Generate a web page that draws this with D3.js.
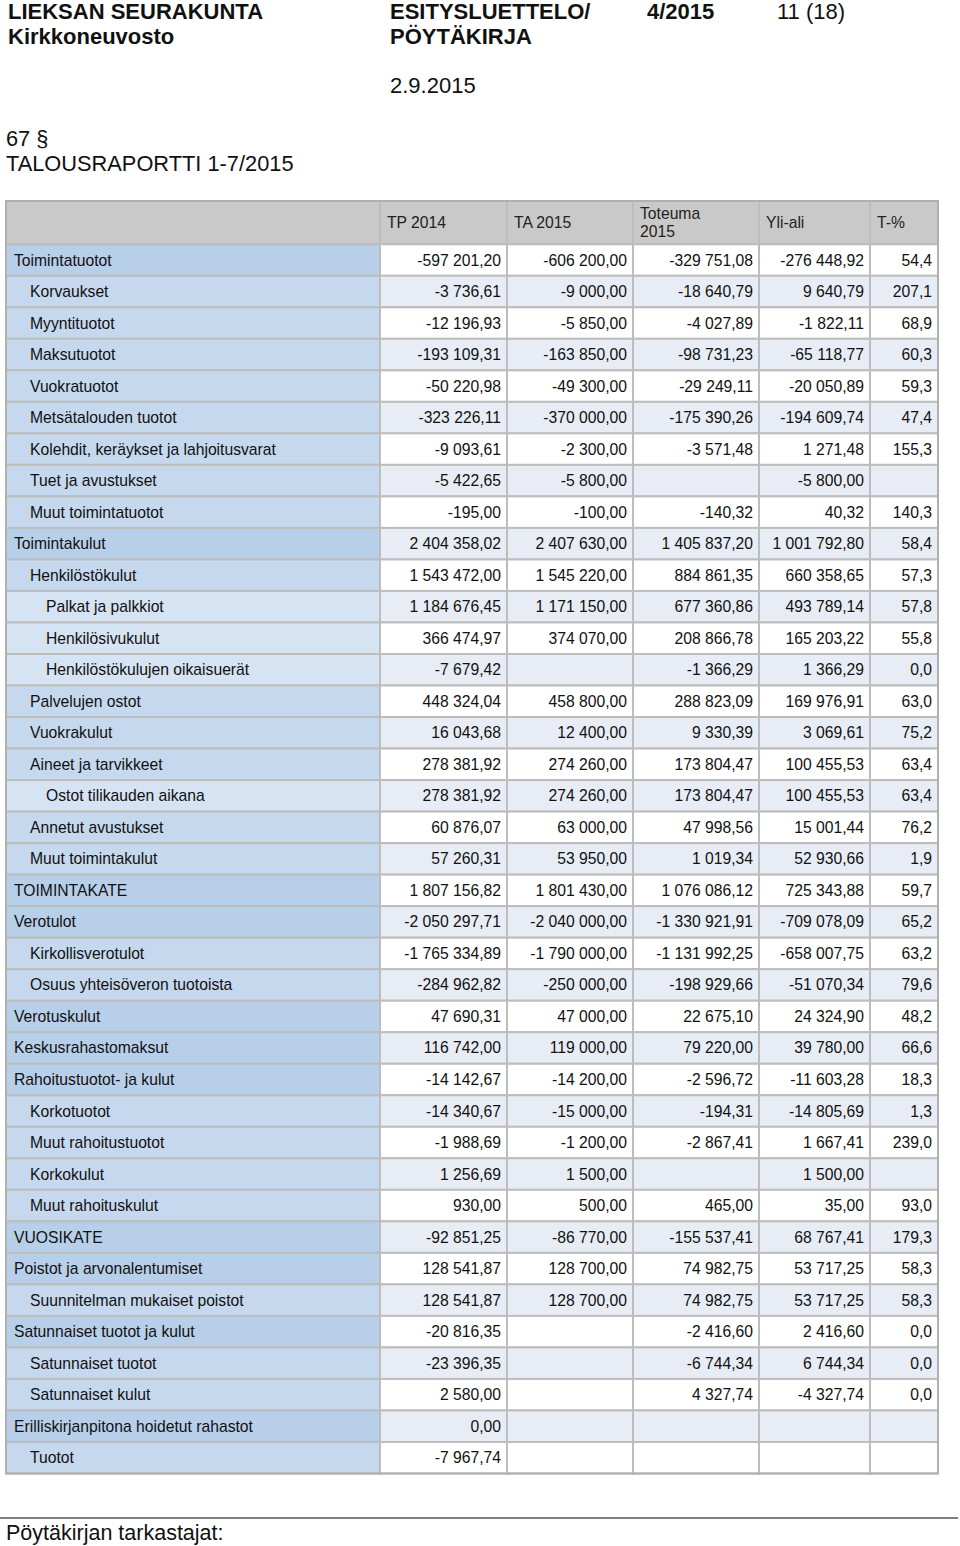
<!DOCTYPE html>
<html><head><meta charset="utf-8">
<script src="https://cdn.jsdelivr.net/npm/d3@7"></script>
<style>body{margin:0;background:#fff;} svg{display:block;font-family:"Liberation Sans",Arial,sans-serif;}</style>
</head><body>
<svg id="c" width="960" height="1546"></svg>
<script>
const columns = ["TP 2014","TA 2015","Toteuma|2015","Yli-ali","T-%"];
const labels = ["Toimintatuotot","Korvaukset","Myyntituotot","Maksutuotot","Vuokratuotot","Metsätalouden tuotot","Kolehdit, keräykset ja lahjoitusvarat","Tuet ja avustukset","Muut toimintatuotot","Toimintakulut","Henkilöstökulut","Palkat ja palkkiot","Henkilösivukulut","Henkilöstökulujen oikaisuerät","Palvelujen ostot","Vuokrakulut","Aineet ja tarvikkeet","Ostot tilikauden aikana","Annetut avustukset","Muut toimintakulut","TOIMINTAKATE","Verotulot","Kirkollisverotulot","Osuus yhteisöveron tuotoista","Verotuskulut","Keskusrahastomaksut","Rahoitustuotot- ja kulut","Korkotuotot","Muut rahoitustuotot","Korkokulut","Muut rahoituskulut","VUOSIKATE","Poistot ja arvonalentumiset","Suunnitelman mukaiset poistot","Satunnaiset tuotot ja kulut","Satunnaiset tuotot","Satunnaiset kulut","Erilliskirjanpitona hoidetut rahastot","Tuotot"];
const levels = [0,1,1,1,1,1,1,1,1,0,1,2,2,2,1,1,1,2,1,1,0,0,1,1,0,0,0,1,1,1,1,0,0,1,0,1,1,0,1];
const tp2014 = [-597201.20,-3736.61,-12196.93,-193109.31,-50220.98,-323226.11,-9093.61,-5422.65,-195.00,2404358.02,1543472.00,1184676.45,366474.97,-7679.42,448324.04,16043.68,278381.92,278381.92,60876.07,57260.31,1807156.82,-2050297.71,-1765334.89,-284962.82,47690.31,116742.00,-14142.67,-14340.67,-1988.69,1256.69,930.00,-92851.25,128541.87,128541.87,-20816.35,-23396.35,2580.00,0.00,-7967.74];
const ta2015 = [-606200,-9000,-5850,-163850,-49300,-370000,-2300,-5800,-100,2407630,1545220,1171150,374070,null,458800,12400,274260,274260,63000,53950,1801430,-2040000,-1790000,-250000,47000,119000,-14200,-15000,-1200,1500,500,-86770,128700,128700,null,null,null,null,null];
const toteuma2015 = [-329751.08,-18640.79,-4027.89,-98731.23,-29249.11,-175390.26,-3571.48,null,-140.32,1405837.20,884861.35,677360.86,208866.78,-1366.29,288823.09,9330.39,173804.47,173804.47,47998.56,1019.34,1076086.12,-1330921.91,-1131992.25,-198929.66,22675.10,79220.00,-2596.72,-194.31,-2867.41,null,465.00,-155537.41,74982.75,74982.75,-2416.60,-6744.34,4327.74,null,null];
const yliAli = [-276448.92,9640.79,-1822.11,-65118.77,-20050.89,-194609.74,1271.48,-5800.00,40.32,1001792.80,660358.65,493789.14,165203.22,1366.29,169976.91,3069.61,100455.53,100455.53,15001.44,52930.66,725343.88,-709078.09,-658007.75,-51070.34,24324.90,39780.00,-11603.28,-14805.69,1667.41,1500.00,35.00,68767.41,53717.25,53717.25,2416.60,6744.34,-4327.74,null,null];
const tPct = [54.4,207.1,68.9,60.3,59.3,47.4,155.3,null,140.3,58.4,57.3,57.8,55.8,0.0,63.0,75.2,63.4,63.4,76.2,1.9,59.7,65.2,63.2,79.6,48.2,66.6,18.3,1.3,239.0,null,93.0,179.3,58.3,58.3,0.0,0.0,0.0,null,null];

const loc = d3.formatLocale({decimal:",", thousands:"\u00a0", grouping:[3], currency:["",""], minus:"-"});
const fMoney = loc.format(",.2f"), fPct = loc.format(".1f");
const series = [tp2014, ta2015, toteuma2015, yliAli, tPct];
const fmts = [fMoney,fMoney,fMoney,fMoney,fPct];

const svg = d3.select("#c");
const colEdges = [6,380,507,633,759,870,938];
const tableTop = 201, headH = 43.25, bodyTop = tableTop+headH, bodyBottom = 1473.5;
const y = d3.scaleBand().domain(d3.range(labels.length)).range([bodyTop, bodyBottom]).padding(0);
const labelBg = ["#b8cfea","#c6d8ee","#d5e3f3"];
const border = "#bdbdbd";
const fs = 15.7;

// page header
const hdr = [
  {t:"LIEKSAN SEURAKUNTA",x:8,y:19,w:"bold",s:22},
  {t:"Kirkkoneuvosto",x:8,y:44,w:"bold",s:22},
  {t:"ESITYSLUETTELO/",x:390,y:19,w:"bold",s:22},
  {t:"PÖYTÄKIRJA",x:390,y:44,w:"bold",s:22},
  {t:"4/2015",x:647,y:19,w:"bold",s:22},
  {t:"11 (18)",x:777,y:19,w:"normal",s:22},
  {t:"2.9.2015",x:390,y:93,w:"normal",s:22},
  {t:"67 §",x:6,y:146,w:"normal",s:21.8},
  {t:"TALOUSRAPORTTI 1-7/2015",x:6,y:171,w:"normal",s:21.8}
];
svg.selectAll("text.hdr").data(hdr).join("text").attr("class","hdr")
  .attr("x",d=>d.x).attr("y",d=>d.y).attr("font-weight",d=>d.w).attr("font-size",d=>d.s)
  .attr("fill","#111").text(d=>d.t);

// table header
svg.append("rect").attr("x",colEdges[0]).attr("y",tableTop).attr("width",colEdges[6]-colEdges[0]).attr("height",headH)
  .attr("fill","#c9c9c9").attr("stroke",border).attr("stroke-width",2);
columns.forEach((c,i)=>{
  const x0 = colEdges[i+1];
  svg.append("rect").attr("x",x0).attr("y",tableTop).attr("width",colEdges[i+2]-x0).attr("height",headH)
    .attr("fill","#c9c9c9").attr("stroke",border).attr("stroke-width",2);
  const parts = c.split("|");
  const t = svg.append("text").attr("x",x0+7).attr("font-size",fs).attr("fill","#222");
  if(parts.length===1){ t.attr("y",tableTop+headH/2+5.5).text(parts[0]); }
  else { parts.forEach((p,k)=>t.append("tspan").attr("x",x0+7).attr("y",tableTop+18+k*18).text(p)); }
});

// body rows
const rows = svg.selectAll("g.row").data(labels.map((l,i)=>({l,i,lev:levels[i]}))).join("g").attr("class","row");
rows.append("rect").attr("x",colEdges[0]).attr("y",d=>y(d.i)).attr("width",colEdges[1]-colEdges[0]).attr("height",y.bandwidth())
  .attr("fill",d=>labelBg[d.lev]).attr("stroke",border).attr("stroke-width",2);
rows.append("text").attr("x",d=>14+d.lev*16).attr("y",d=>y(d.i)+y.bandwidth()/2+5.5)
  .attr("font-size",fs).attr("fill","#111").text(d=>d.l);
series.forEach((arr,j)=>{
  const x0 = colEdges[j+1], x1 = colEdges[j+2];
  rows.append("rect").attr("x",x0).attr("y",d=>y(d.i)).attr("width",x1-x0).attr("height",y.bandwidth())
    .attr("fill",d=>d.i%2===0?"#ffffff":"#e8edf5").attr("stroke",border).attr("stroke-width",2);
  rows.append("text").attr("x",x1-6).attr("y",d=>y(d.i)+y.bandwidth()/2+5.5).attr("text-anchor","end")
    .attr("font-size",fs).attr("fill","#111").text(d=>arr[d.i]==null?"":fmts[j](arr[d.i]));
});
// outer border
svg.append("rect").attr("x",colEdges[0]).attr("y",tableTop).attr("width",colEdges[6]-colEdges[0]).attr("height",bodyBottom-tableTop)
  .attr("fill","none").attr("stroke","#b0b0b0").attr("stroke-width",2);

// footer
svg.append("line").attr("x1",0).attr("x2",958).attr("y1",1518).attr("y2",1518).attr("stroke","#555").attr("stroke-width",1.5);
svg.append("text").attr("x",6).attr("y",1540).attr("font-size",21.5).attr("fill","#111").text("Pöytäkirjan tarkastajat:");
</script>
</body></html>
